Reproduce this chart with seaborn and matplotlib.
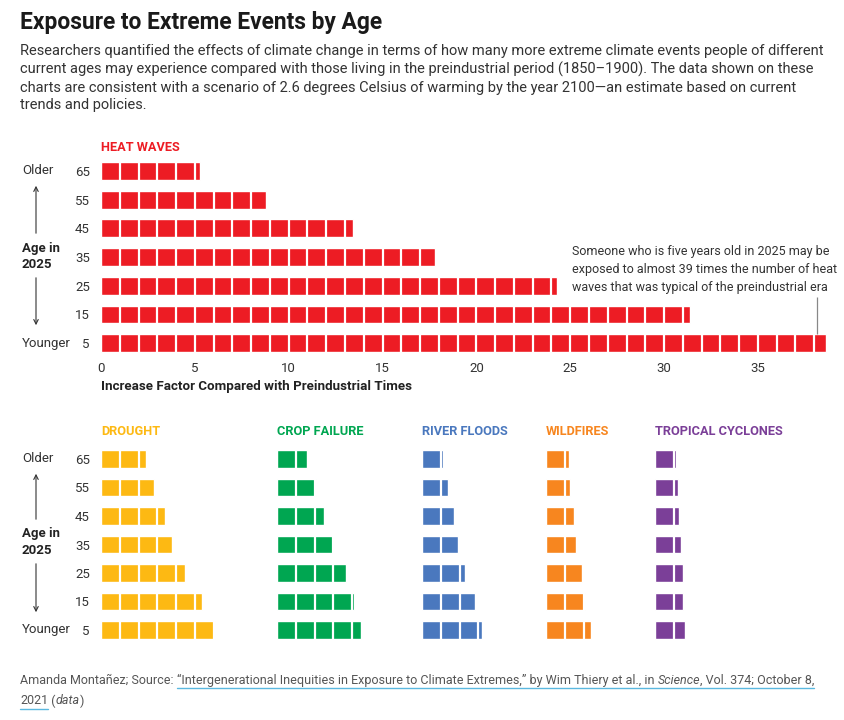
import numpy as np
import pandas as pd
import matplotlib
matplotlib.use("Agg")
import matplotlib.pyplot as plt
from matplotlib.lines import Line2D
from matplotlib.patches import FancyArrowPatch
import seaborn as sns

sns.set_theme(style="white")
plt.rcParams["font.family"] = ["Roboto", "DejaVu Sans"]

# Data (increase factor vs preindustrial, by age in 2025)
ages = ["65", "55", "45", "35", "25", "15", "5"]
heat_waves = [5.3, 8.8, 13.4, 17.8, 24.3, 31.4, 38.6]
drought = [2.4, 2.8, 3.4, 3.8, 4.5, 5.4, 6.1]
crop_failure = [1.6, 2.1, 2.5, 3.0, 3.7, 4.1, 4.5]
river_floods = [1.1, 1.4, 1.7, 1.9, 2.3, 2.8, 3.2]
wildfires = [1.2, 1.3, 1.5, 1.6, 1.9, 2.1, 2.4]
tropical_cyclones = [1.1, 1.2, 1.3, 1.4, 1.5, 1.5, 1.6]

TXT = "#333333"
W, H = 844, 720
PX_PER_UNIT = 18.77
fig = plt.figure(figsize=(W / 100, H / 100), dpi=100)


def fx(x):
    return x / W


def fy(y):
    return 1 - y / H


def add_ax(left, top, width, height):
    return fig.add_axes([left / W, 1 - (top + height) / H, width / W, height / H])


def draw_bars(ax, values, color, xmax, bar_h):
    df = pd.DataFrame({"age": ages, "factor": values})
    sns.barplot(data=df, x="factor", y="age", order=ages, orient="h",
                color=color, saturation=1, width=bar_h, ax=ax)
    # white gaps every 1 unit -> blocks
    ax.vlines(np.arange(1, np.ceil(max(values))), -0.5, len(ages) - 0.5,
              color="white", lw=1.6)
    ax.set_xlim(0, xmax)
    ax.set_ylim(len(ages) - 0.5, -0.5)
    sns.despine(ax=ax, left=True, bottom=True)
    ax.set_xlabel("")
    ax.set_ylabel("")
    ax.tick_params(axis="y", length=0, pad=8, labelsize=9.5, labelcolor=TXT)


def side_labels(y_top, y_bot, y_mid):
    fig.text(fx(22), fy(y_top), "Older", ha="left", va="center", fontsize=9.5, color=TXT)
    fig.text(fx(22), fy(y_bot), "Younger", ha="left", va="center", fontsize=9.5, color=TXT)
    fig.text(fx(22), fy(y_mid), "Age in\n2025", ha="left", va="center", fontsize=9.5,
             fontweight="bold", color="#222222", linespacing=1.3)
    for a, b in [(y_mid - 20, y_top + 12), (y_mid + 19, y_bot - 15)]:
        fig.add_artist(FancyArrowPatch((fx(36), fy(a)), (fx(36), fy(b)),
                                       transform=fig.transFigure, arrowstyle="->",
                                       mutation_scale=8, lw=0.8, color=TXT))


# Title and intro
fig.text(fx(20), fy(22), "Exposure to Extreme Events by Age", fontsize=16.4,
         fontweight="bold", va="center", color="#1a1a1a")
fig.text(fx(20), fy(43.5),
         "Researchers quantified the effects of climate change in terms of how many more extreme climate events people of different\n"
         "current ages may experience compared with those living in the preindustrial period (1850–1900). The data shown on these\n"
         "charts are consistent with a scenario of 2.6 degrees Celsius of warming by the year 2100—an estimate based on current\n"
         "trends and policies.",
         fontsize=10.5, va="top", color=TXT, linespacing=1.34)

# Heat waves panel
ax_heat = add_ax(101, 156.7, 39 * PX_PER_UNIT, 200.7)
draw_bars(ax_heat, heat_waves, "#ED1C24", 39, 0.62)
ax_heat.set_xticks(range(0, 40, 5))
ax_heat.tick_params(axis="x", length=0, pad=3, labelsize=9.5, labelcolor=TXT)
ax_heat.set_xlabel("Increase Factor Compared with Preindustrial Times", loc="left",
                   fontsize=9.6, fontweight="bold", color="#222222", labelpad=4)
ax_heat.set_title("HEAT WAVES", loc="left", fontsize=9.2, fontweight="bold",
                  color="#ED1C24", pad=4)
ax_heat.text(25.1, 3.42,
             "Someone who is five years old in 2025 may be\n"
             "exposed to almost 39 times the number of heat\n"
             "waves that was typical of the preindustrial era",
             ha="left", va="center", fontsize=9, color=TXT, linespacing=1.5)
ax_heat.vlines(heat_waves[-1] - 0.43, 4.38, len(ages) - 1 - 0.31, color="#888888", lw=0.9)
side_labels(171, 343, 256)

# Small multiples
panels = [
    ("DROUGHT", drought, "#FDB913", 101),
    ("CROP FAILURE", crop_failure, "#00A651", 277),
    ("RIVER FLOODS", river_floods, "#4A78BE", 422),
    ("WILDFIRES", wildfires, "#F7861F", 546),
    ("TROPICAL CYCLONES", tropical_cyclones, "#7B3F98", 655),
]
for i, (name, vals, col, left) in enumerate(panels):
    ax = add_ax(left, 444.75, 7 * PX_PER_UNIT, 199.5)
    draw_bars(ax, vals, col, 7, 0.61)
    ax.set_xticks([])
    if i > 0:
        ax.set_yticks([])
    ax.set_title(name, loc="left", fontsize=9.2, fontweight="bold", color=col, pad=7)
side_labels(459, 630, 542)

# Footer with mixed styles
renderer = fig.canvas.get_renderer()
FOOT = "#555555"
LINK = "#5BB8E0"


def runs(x, y, parts):
    spans = []
    for text, style, ul in parts:
        t = fig.text(fx(x), fy(y), text, fontsize=9, color=FOOT, style=style,
                     va="center", ha="left")
        bb = t.get_window_extent(renderer)
        if ul:
            spans.append((bb.x0, bb.x1))
        x = bb.x1
    if spans:
        x0, x1 = spans[0][0], spans[-1][1]
        fig.add_artist(Line2D([x0 / W, x1 / W], [fy(y + 8), fy(y + 8)],
                              transform=fig.transFigure, color=LINK, lw=1))


runs(20, 680, [("Amanda Montañez; Source: ", "normal", False),
               ("“Intergenerational Inequities in Exposure to Climate Extremes,” by Wim Thiery et al., in ", "normal", True),
               ("Science", "italic", True),
               (", Vol. 374; October 8,", "normal", True)])
runs(20, 701, [("2021", "normal", True), (" (", "normal", False),
               ("data", "italic", False), (")", "normal", False)])

fig.savefig("out.png", dpi=100, facecolor="white")
